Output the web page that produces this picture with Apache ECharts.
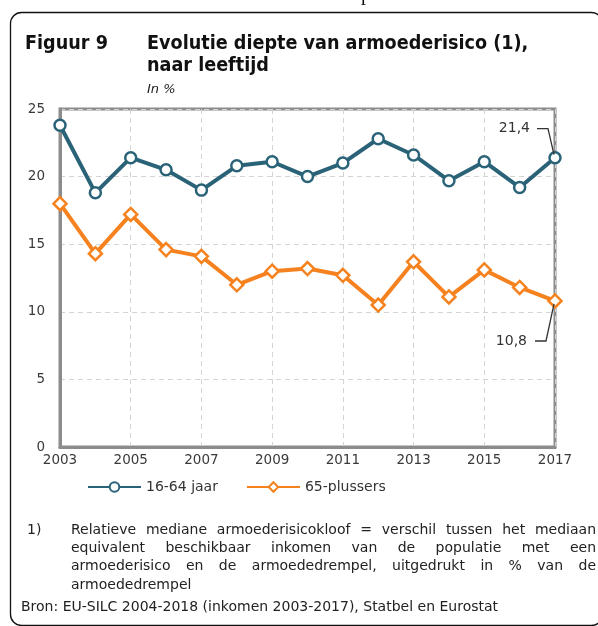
<!DOCTYPE html>
<html>
<head>
<meta charset="utf-8">
<script src="https://cdn.jsdelivr.net/npm/echarts@6/dist/echarts.min.js"></script>
<style>
  html, body { margin: 0; padding: 0; background: #fff; }
  #chart { width: 598px; height: 626px; }
</style>
</head>
<body>
<div id="chart"></div>
<script>
// jaren en waarden (in %)
var years = ['2003','2004','2005','2006','2007','2008','2009','2010','2011','2012','2013','2014','2015','2016','2017'];
var jaar1664 = [23.8, 18.8, 21.4, 20.5, 19.0, 20.8, 21.1, 20.0, 21.0, 22.8, 21.6, 19.7, 21.1, 19.2, 21.4];
var plus65 = [18.0, 14.3, 17.2, 14.6, 14.1, 12.0, 13.0, 13.2, 12.7, 10.5, 13.7, 11.1, 13.1, 11.8, 10.8];
var yTicks = [0, 5, 10, 15, 20, 25];
var seriesNames = ['16-64 jaar', '65-plussers'];

var footLines = [
    'Relatieve mediane armoederisicokloof = verschil tussen het mediaan',
    'equivalent beschikbaar inkomen van de populatie met een',
    'armoederisico en de armoededrempel, uitgedrukt in % van de',
    'armoededrempel'
];
var bron = 'Bron: EU-SILC 2004-2018 (inkomen 2003-2017), Statbel en Eurostat';

var FONT = '"DejaVu Sans", sans-serif';
var FONT_C = '"DejaVu Sans Condensed", "DejaVu Sans", sans-serif';
var BLUE = '#2a6378';
var ORANGE = '#f5821f';

var chart = echarts.init(document.getElementById('chart'));

// voetnoot uitgevuld (woorden uitgespreid over de regel)
var measureCtx = document.createElement('canvas').getContext('2d');
function justifyLine(text, x0, x1, y, size, justify) {
    measureCtx.font = size + 'px ' + FONT;
    var words = text.split(' ');
    var widths = words.map(function (w) { return measureCtx.measureText(w).width; });
    var total = widths.reduce(function (a, b) { return a + b; }, 0);
    var gap = justify && words.length > 1 ? (x1 - x0 - total) / (words.length - 1) : measureCtx.measureText(' ').width;
    var x = x0, out = [];
    words.forEach(function (w, i) {
        out.push({ type: 'text', x: x, y: y, style: { text: w, font: size + 'px ' + FONT, fill: '#222', verticalAlign: 'middle' } });
        x += widths[i] + gap;
    });
    return out;
}

var graphics = [
    { type: 'rect', shape: { x: 10.5, y: 12.5, width: 592, height: 613, r: 11 }, style: { fill: 'none', stroke: '#111', lineWidth: 1.3 }, silent: true },
    { type: 'text', x: 361, y: 5, style: { text: 'p', font: '20px "Liberation Serif", serif', fill: '#111', verticalAlign: 'bottom' } },
    { type: 'text', left: 25, top: 34, style: { text: 'Figuur 9', font: 'bold 19.6px ' + FONT_C, fill: '#111' } },
    { type: 'text', left: 147, top: 34, style: { text: 'Evolutie diepte van armoederisico (1),', font: 'bold 19.6px ' + FONT_C, fill: '#111' } },
    { type: 'text', left: 147, top: 56, style: { text: 'naar leeftijd', font: 'bold 19.6px ' + FONT_C, fill: '#111' } },
    { type: 'text', left: 147, top: 83, style: { text: 'In %', font: 'italic 13px ' + FONT, fill: '#222' } },
    { type: 'text', x: 27, y: 530, style: { text: '1)', font: '14px ' + FONT, fill: '#222', verticalAlign: 'middle' } },
    { type: 'text', x: 21, y: 607, style: { text: bron, font: '14px ' + FONT, fill: '#222', verticalAlign: 'middle' } }
];
footLines.forEach(function (line, i) {
    graphics = graphics.concat(justifyLine(line, 71, 596, 530 + i * 18.3, 14, i < footLines.length - 1));
});

chart.setOption({
    animation: false,
    grid: {
        left: 60, right: 43, top: 109, bottom: 179,
        show: true, borderColor: '#8c8c8c', borderWidth: 3
    },
    legend: {
        top: 480, left: 87, padding: 0,
        itemWidth: 53, itemHeight: 12, itemGap: 28,
        textStyle: { fontFamily: FONT, fontSize: 14, color: '#333' },
        data: seriesNames
    },
    xAxis: {
        type: 'category',
        data: years,
        boundaryGap: false,
        axisLine: { lineStyle: { color: '#8c8c8c', width: 3 } },
        axisTick: { show: false },
        axisLabel: { interval: 1, margin: 6, fontFamily: FONT, fontSize: 13.5, color: '#3a3a3a' },
        splitLine: { show: true, interval: 1, lineStyle: { color: '#d4d4d4', type: [5, 4], width: 1 } }
    },
    yAxis: {
        type: 'value',
        min: yTicks[0], max: yTicks[yTicks.length - 1], interval: 5,
        axisLine: { show: true, lineStyle: { color: '#8c8c8c', width: 3 } },
        axisTick: { show: false },
        axisLabel: { margin: 15, fontFamily: FONT, fontSize: 13.5, color: '#3a3a3a' },
        splitLine: { lineStyle: { color: '#d4d4d4', type: [5, 4], width: 1 } }
    },
    series: [
        {
            name: seriesNames[0], type: 'line', data: jaar1664,
            symbol: 'circle', symbolSize: 11,
            lineStyle: { color: BLUE, width: 4 },
            itemStyle: { color: '#fff', borderColor: BLUE, borderWidth: 2.5 },
            z: 3
        },
        {
            name: seriesNames[1], type: 'line', data: plus65,
            symbol: 'diamond', symbolSize: 13,
            lineStyle: { color: ORANGE, width: 4 },
            itemStyle: { color: '#fff', borderColor: ORANGE, borderWidth: 2.5 },
            z: 2
        }
    ],
    graphic: graphics
});

// annotaties bij het laatste jaar
var last = years.length - 1;
var pB = chart.convertToPixel({ seriesIndex: 0 }, [last, jaar1664[last]]);
var pO = chart.convertToPixel({ seriesIndex: 1 }, [last, plus65[last]]);
var fmt = function (v) { return v.toFixed(1).replace('.', ','); };
chart.setOption({
    graphic: graphics.concat([
        { type: 'polyline', shape: { points: [[pB[0] - 18, pB[1] - 29], [pB[0] - 7, pB[1] - 29], [pB[0] - 1, pB[1] - 3]] }, style: { stroke: '#333', lineWidth: 1.3, fill: null }, z: 10 },
        { type: 'text', x: pB[0] - 25, y: pB[1] - 29, style: { text: fmt(jaar1664[last]), font: '14px ' + FONT, fill: '#333', align: 'right', verticalAlign: 'middle' } },
        { type: 'polyline', shape: { points: [[pO[0] - 20, pO[1] + 40], [pO[0] - 9, pO[1] + 40], [pO[0] - 1, pO[1] + 3]] }, style: { stroke: '#333', lineWidth: 1.3, fill: null }, z: 10 },
        { type: 'text', x: pO[0] - 28, y: pO[1] + 40, style: { text: fmt(plus65[last]), font: '14px ' + FONT, fill: '#333', align: 'right', verticalAlign: 'middle' } }
    ])
}, { replaceMerge: ['graphic'] });
</script>
</body>
</html>
